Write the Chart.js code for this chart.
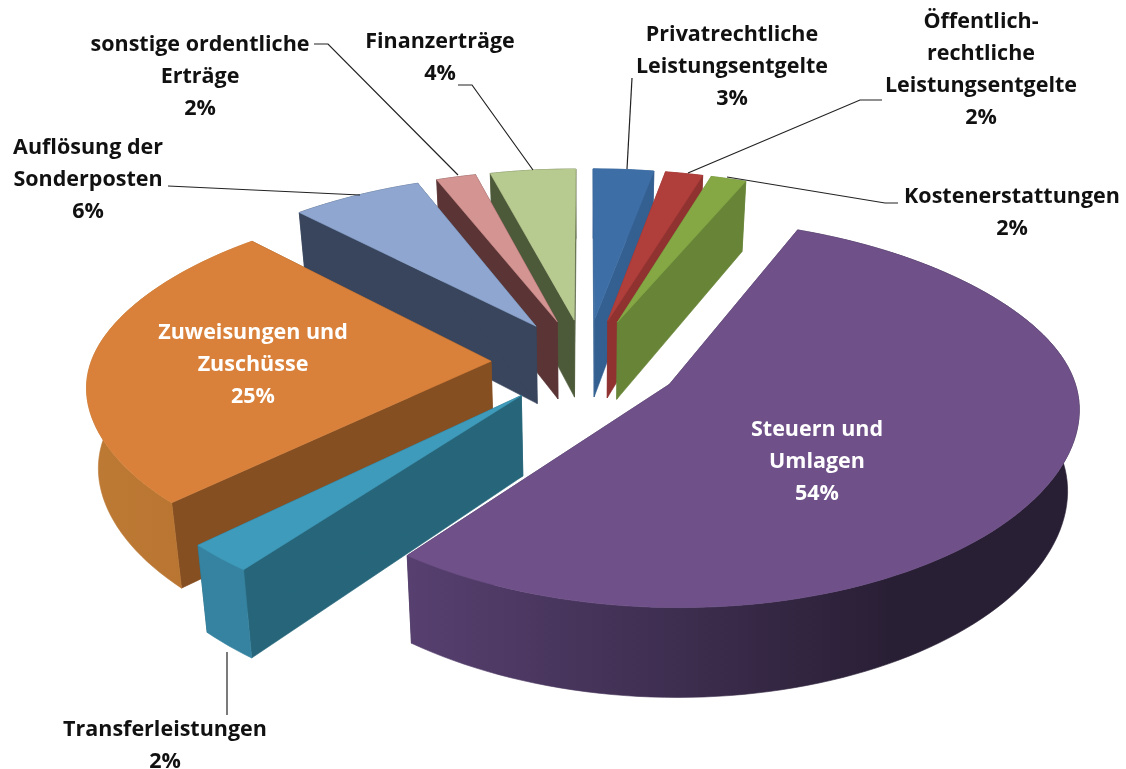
<!DOCTYPE html>
<html><head><meta charset="utf-8">
<script src="https://cdn.jsdelivr.net/npm/chart.js@4"></script>
<style>html,body{margin:0;padding:0;background:#fff}#w{width:1126px;height:769px}</style>
</head><body><div id="w"><canvas id="c"></canvas></div>
<script>
const categories = ["Privatrechtliche Leistungsentgelte","Öffentlich-rechtliche Leistungsentgelte","Kostenerstattungen","Steuern und Umlagen","Transferleistungen","Zuweisungen und Zuschüsse","Auflösung der Sonderposten","sonstige ordentliche Erträge","Finanzerträge"];
const percentages = [2.9,1.8,1.7,54,2.4,25,6.2,1.9,4.1];
const topColors = ["#3e6ea6","#b03e3b","#85a845","#6f5089","#3f9bbb","#d9813a","#8fa7d0","#d39492","#b7ca8f"];
const cutColors = ["#335f91","#8f3230","#678437","#3d2d50","#27667a","#864f22","#38455d","#5b3535","#4d5a3a"];
const rimLeft   = ["#335f91","#8f3230","#678437","#574070","#3583a0","#bd7a35","#38455d","#5b3535","#4d5a3a"];
const rimRight  = ["#335f91","#8f3230","#678437","#291f35","#3583a0","#b87430","#38455d","#5b3535","#4d5a3a"];
const labelLines = [["Privatrechtliche","Leistungsentgelte"],["Öffentlich-","rechtliche","Leistungsentgelte"],["Kostenerstattungen"],["Steuern und","Umlagen"],["Transferleistungen"],["Zuweisungen und","Zuschüsse"],["Auflösung der","Sonderposten"],["sonstige ordentliche","Erträge"],["Finanzerträge"]];
const labelX = [732,981,1012,817,165,253,88,200,440];
const labelY = [35,22,197,430,730,333,148,45,42];
const labelColor = ["#111","#111","#111","#fff","#111","#fff","#111","#111","#111"];
const leaders = [
 [[632,78],[627,169]],
 [[882,100],[860,100],[688,173]],
 [[898,203],[885,203],[727,177]],
 null,
 [[227,715],[227,652]],
 null,
 [[168,186],[360,195]],
 [[314,44],[328,44],[458,175]],
 [[458,85],[472,85],[533,170]]
];
const CX=586, CY=362, R=400, PBACK=0.0004, PFRONT=0.00027, PY=0.00036, K=0.46, DEPTH=79, EXPLODE=95, SHRINK=0.0003;
function proj(X,Y,Z){Z=Z||0;const p=(PBACK+PFRONT)/2+(PBACK-PFRONT)/2*Math.tanh(Y/150);const s=1/(1+p*Y), t=1/(1+PY*Y);return [CX+X*s*(1-Z*SHRINK), CY-K*Y*t+Z*(1/(1+PFRONT*Y))];}
function poly(ctx,pts,fill){ctx.beginPath();pts.forEach((p,i)=>i?ctx.lineTo(p[0],p[1]):ctx.moveTo(p[0],p[1]));ctx.closePath();ctx.fillStyle=fill;ctx.strokeStyle=fill;ctx.lineWidth=.6;ctx.fill();ctx.stroke();}
const pie3d={id:'pie3d',beforeDatasetsDraw(chart){
  const ctx=chart.ctx, arcs=chart.getDatasetMeta(0).data;
  const items=arcs.map((a,i)=>{
    const off=EXPLODE*(a.options.offset>0?1:0), mid=(a.startAngle+a.endAngle)/2;
    const ax=Math.cos(mid)*off, ay=-Math.sin(mid)*off, pts=[];
    const n=Math.max(2,Math.ceil((a.endAngle-a.startAngle)/0.03));
    for(let k=0;k<=n;k++){const t=a.startAngle+(a.endAngle-a.startAngle)*k/n;pts.push([ax+R*Math.cos(t),ay-R*Math.sin(t)]);}
    return {i,a,ax,ay,pts,sort:-Math.sin(mid)*(off+R*0.5)};
  }).sort((p,q)=>q.sort-p.sort);
  items.forEach(it=>{
    const {i,ax,ay,pts}=it, apex=[ax,ay], first=pts[0], last=pts[pts.length-1];
    const quad=(u,v,c)=>poly(ctx,[proj(u[0],u[1]),proj(v[0],v[1]),proj(v[0],v[1],DEPTH),proj(u[0],u[1],DEPTH)],c);
    quad(apex,first,cutColors[i]); quad(apex,last,cutColors[i]);
    const tops=pts.map(p=>proj(p[0],p[1])), bots=pts.map(p=>proj(p[0],p[1],DEPTH));
    const xs=tops.map(p=>p[0]), x0=Math.min(...xs), x1=Math.max(...xs);
    const g=ctx.createLinearGradient(x0,0,x0+(x1-x0)*0.72,0);
    g.addColorStop(0,rimLeft[i]);g.addColorStop(1,rimRight[i]);
    poly(ctx,[...tops,...bots.reverse()],g);
    poly(ctx,[proj(ax,ay),...tops],it.a.options.backgroundColor);
  });
  return false;
},afterDraw(chart){
  const ctx=chart.ctx, ds=chart.data.datasets[0];
  ctx.save();
  ctx.strokeStyle='#222';ctx.lineWidth=1.2;
  leaders.forEach(l=>{if(!l)return;ctx.beginPath();l.forEach((p,i)=>i?ctx.lineTo(p[0],p[1]):ctx.moveTo(p[0],p[1]));ctx.stroke();});
  ctx.font='bold 21.5px "Open Sans"';ctx.textAlign='center';ctx.textBaseline='middle';
  chart.data.labels.forEach((_,i)=>{
    const lines=[...labelLines[i],Math.round(ds.data[i])+'%'];
    ctx.fillStyle=labelColor[i];
    lines.forEach((t,j)=>ctx.fillText(t,labelX[i],labelY[i]+j*32));
  });
  ctx.restore();
}};
new Chart(document.getElementById('c'),{type:'pie',
 data:{labels:categories,datasets:[{data:percentages,backgroundColor:topColors,offset:60,borderWidth:0}]},
 options:{responsive:true,maintainAspectRatio:false,animation:false,plugins:{legend:{display:false},tooltip:{enabled:false}}},
 plugins:[pie3d]});
</script></body></html>
